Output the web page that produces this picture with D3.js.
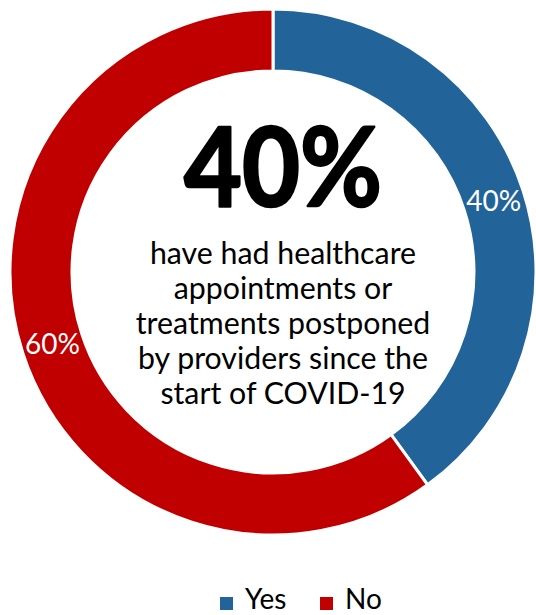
<!DOCTYPE html>
<html>
<head>
<meta charset="utf-8">
<script src="https://cdn.jsdelivr.net/npm/d3@7"></script>
<style>
  html, body { margin: 0; padding: 0; background: #fff; }
  svg { display: block; }
  text { font-family: Lato, "Open Sans", sans-serif; }
</style>
</head>
<body>
<svg id="chart" width="536" height="615"></svg>
<script>
// Survey answers and their shares (percent)
const categories = ["Yes", "No"];
const shares = [40, 60];
const colors = ["#22649A", "#C00000"];

// Headline figure and the sentence printed inside the ring
const headline = "40%";
const captionLines = [
  "have had healthcare",
  "appointments or",
  "treatments postponed",
  "by providers since the",
  "start of COVID-19"
];

const width = 536, height = 615;
const cx = 273, cy = 272;
const outerR = 263, innerR = 201;

const svg = d3.select("#chart");

const data = categories.map((c, i) => ({ name: c, value: shares[i] }));

const color = d3.scaleOrdinal().domain(categories).range(colors);

const pie = d3.pie()
  .sort(null)
  .value(d => d.value)
  .startAngle(0)
  .endAngle(2 * Math.PI);

const arc = d3.arc().innerRadius(innerR).outerRadius(outerR);
const labelArc = d3.arc()
  .innerRadius((innerR + outerR) / 2)
  .outerRadius((innerR + outerR) / 2);

const ring = svg.append("g").attr("transform", `translate(${cx},${cy})`);
const arcs = pie(data);

ring.selectAll("path")
  .data(arcs)
  .join("path")
  .attr("d", arc)
  .attr("fill", d => color(d.data.name))
  .attr("stroke", "#fff")
  .attr("stroke-width", 3)
  .attr("stroke-linejoin", "miter");

// Percentage labels on each slice
const fmt = v => `${v}%`;
ring.selectAll("text.slice-label")
  .data(arcs)
  .join("text")
  .attr("class", "slice-label")
  .attr("x", d => labelArc.centroid(d)[0])
  .attr("y", d => labelArc.centroid(d)[1] + 10.5)
  .attr("text-anchor", "middle")
  .attr("fill", "#fff")
  .attr("font-size", 28)
  .text(d => fmt(d.data.value));

// Headline (bold, with a thin outline to thicken the strokes) and caption in the hole
const textX = 283;
svg.append("text")
  .attr("x", textX)
  .attr("y", 206)
  .attr("text-anchor", "middle")
  .attr("font-size", 110)
  .attr("font-weight", 700)
  .attr("textLength", 198)
  .attr("lengthAdjust", "spacingAndGlyphs")
  .attr("fill", "#000")
  .attr("stroke", "#000")
  .attr("stroke-width", 2.5)
  .attr("stroke-linejoin", "round")
  .text(headline);

svg.append("g")
  .selectAll("text")
  .data(captionLines)
  .join("text")
  .attr("x", textX)
  .attr("y", (d, i) => 264 + i * 35)
  .attr("text-anchor", "middle")
  .attr("font-size", 30.3)
  .attr("fill", "#000")
  .text(d => d);

// Legend
const legendX = [220, 320];
const legend = svg.append("g")
  .selectAll("g")
  .data(categories)
  .join("g")
  .attr("transform", (d, i) => `translate(${legendX[i]},597)`);

legend.append("rect")
  .attr("width", 13)
  .attr("height", 13)
  .attr("fill", d => color(d));

legend.append("text")
  .attr("x", 25)
  .attr("y", 12)
  .attr("font-size", 28)
  .attr("fill", "#000")
  .text(d => d);
</script>
</body>
</html>
